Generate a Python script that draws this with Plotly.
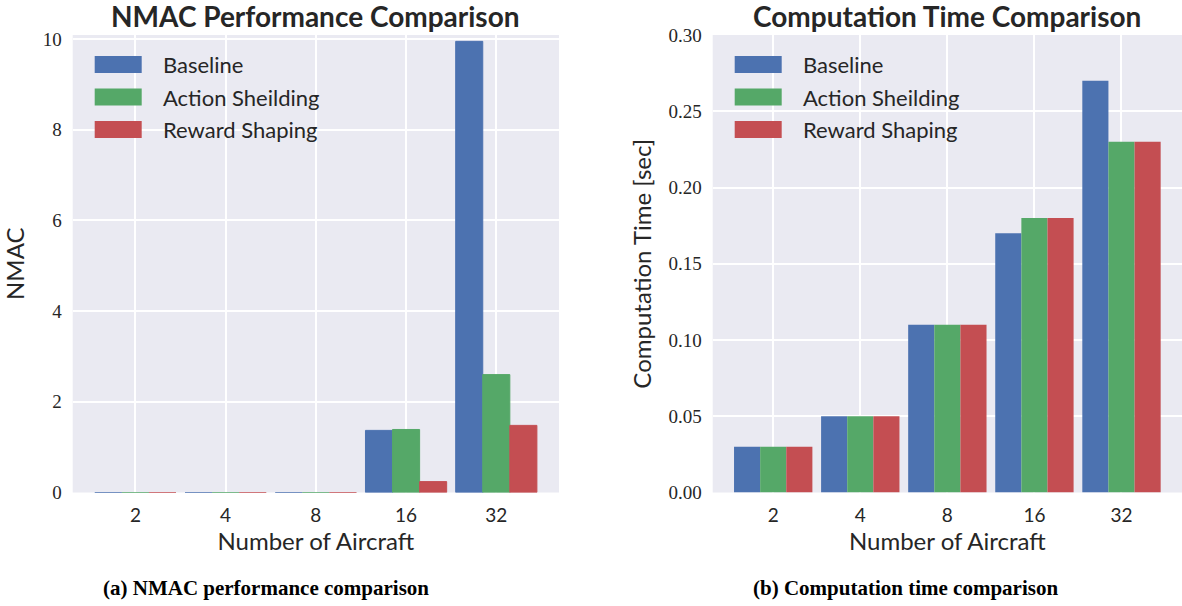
import plotly.graph_objects as go

categories = ["2", "4", "8", "16", "32"]
series_names = ["Baseline", "Action Sheilding", "Reward Shaping"]
colors = ["#4C72B0", "#55A868", "#C44E52"]

nmac_baseline = [0, 0, 0, 1.37, 9.95]
nmac_action = [0, 0, 0, 1.39, 2.60]
nmac_reward = [0, 0, 0, 0.24, 1.48]

time_baseline = [0.03, 0.05, 0.11, 0.17, 0.27]
time_action = [0.03, 0.05, 0.11, 0.18, 0.23]
time_reward = [0.03, 0.05, 0.11, 0.18, 0.23]

nmac_ticks = [0, 2, 4, 6, 8, 10]
time_ticks = [0.00, 0.05, 0.10, 0.15, 0.20, 0.25, 0.30]

W, H = 1182, 606
# plot areas in pixels
L1, R1 = 72.7, 559.0
L2, R2 = 712.7, 1182.0
TOP, BOT = 35.0, 492.5

def px_x(p):
    return p / W

def px_y(p):
    return 1 - p / H

SANS = "Lato"
SERIF = "Liberation Serif"
TXT = "#262626"
BG = "#EAEAF2"

fig = go.Figure()

for vals, name, col in zip([nmac_baseline, nmac_action, nmac_reward], series_names, colors):
    fig.add_trace(go.Bar(x=categories, y=vals, name=name, marker_color=col,
                         marker_line=dict(color=col, width=1),
                         xaxis="x", yaxis="y", showlegend=False))
for vals, name, col in zip([time_baseline, time_action, time_reward], series_names, colors):
    fig.add_trace(go.Bar(x=categories, y=vals, name=name, marker_color=col,
                         marker_line=dict(width=0),
                         xaxis="x2", yaxis="y2", showlegend=False))

common_x = dict(type="category", range=[-0.695, 4.695], showgrid=True, gridcolor="white",
                gridwidth=1.6, zeroline=False, showline=False, ticks="", automargin=False,
                tickfont=dict(family=SANS, size=19, color=TXT), ticklabelstandoff=9,
                title=dict(text="Number of Aircraft", font=dict(family=SANS, size=24, color=TXT),
                           standoff=8))

fig.update_layout(
    template="none",
    width=W, height=H,
    margin=dict(l=0, r=0, t=0, b=0, pad=0),
    paper_bgcolor="white",
    plot_bgcolor=BG,
    barmode="group", bargap=0.1, bargroupgap=0,
    xaxis=dict(domain=[px_x(L1), px_x(R1)], anchor="y", **common_x),
    xaxis2=dict(domain=[px_x(L2), min(1.0, px_x(R2))], anchor="y2", **common_x),
    yaxis=dict(domain=[px_y(BOT), px_y(TOP)], anchor="x", range=[0, 10.09],
               tickvals=nmac_ticks, ticktext=[str(v) for v in nmac_ticks],
               showgrid=True, gridcolor="white", gridwidth=1.6, zeroline=False,
               showline=False, ticks="", ticklabelstandoff=10, automargin=False,
               tickfont=dict(family=SERIF, size=19, color=TXT),
               title=dict(text="NMAC", font=dict(family=SANS, size=24, color=TXT), standoff=12)),
    yaxis2=dict(domain=[px_y(BOT), px_y(TOP)], anchor="x2", range=[0, 0.3],
                tickvals=time_ticks, ticktext=["%.2f" % v for v in time_ticks],
                showgrid=True, gridcolor="white", gridwidth=1.6, zeroline=False,
                showline=False, ticks="", ticklabelstandoff=10, automargin=False,
                tickfont=dict(family=SERIF, size=19, color=TXT),
                title=dict(text="Computation Time [sec]", font=dict(family=SANS, size=24, color=TXT),
                           standoff=10)),
)

# Titles
fig.add_annotation(text="<b>NMAC Performance Comparison</b>", x=px_x((L1 + R1) / 2), y=px_y(16),
                   xref="paper", yref="paper", showarrow=False, xanchor="center", yanchor="middle",
                   font=dict(family=SANS, size=28, color=TXT))
fig.add_annotation(text="<b>Computation Time Comparison</b>", x=px_x((L2 + R2) / 2), y=px_y(16),
                   xref="paper", yref="paper", showarrow=False, xanchor="center", yanchor="middle",
                   font=dict(family=SANS, size=28, color=TXT))

# Captions
fig.add_annotation(text="<b>(a) NMAC performance comparison</b>", x=px_x(266), y=px_y(588),
                   xref="paper", yref="paper", showarrow=False, xanchor="center", yanchor="middle",
                   font=dict(family=SERIF, size=21, color="black"))
fig.add_annotation(text="<b>(b) Computation time comparison</b>", x=px_x(905), y=px_y(588),
                   xref="paper", yref="paper", showarrow=False, xanchor="center", yanchor="middle",
                   font=dict(family=SERIF, size=21, color="black"))

# Legends (drawn in paper space, one per subplot)
row_centers = [64.4, 97.0, 129.5]
for left in (L1, L2):
    for name, col, yc in zip(series_names, colors, row_centers):
        fig.add_shape(type="rect", xref="paper", yref="paper",
                      x0=px_x(left + 22), x1=px_x(left + 69),
                      y0=px_y(yc + 8.5), y1=px_y(yc - 8.5),
                      fillcolor=col, line=dict(width=0))
        fig.add_annotation(text=name, x=px_x(left + 88), y=px_y(yc), xref="paper", yref="paper",
                           showarrow=False, xanchor="left", yanchor="middle",
                           font=dict(family=SANS, size=22, color=TXT))

fig.write_html("out.html", config={"displayModeBar": False},
               post_script="document.body.style.margin='0';document.body.style.overflow='hidden';")
